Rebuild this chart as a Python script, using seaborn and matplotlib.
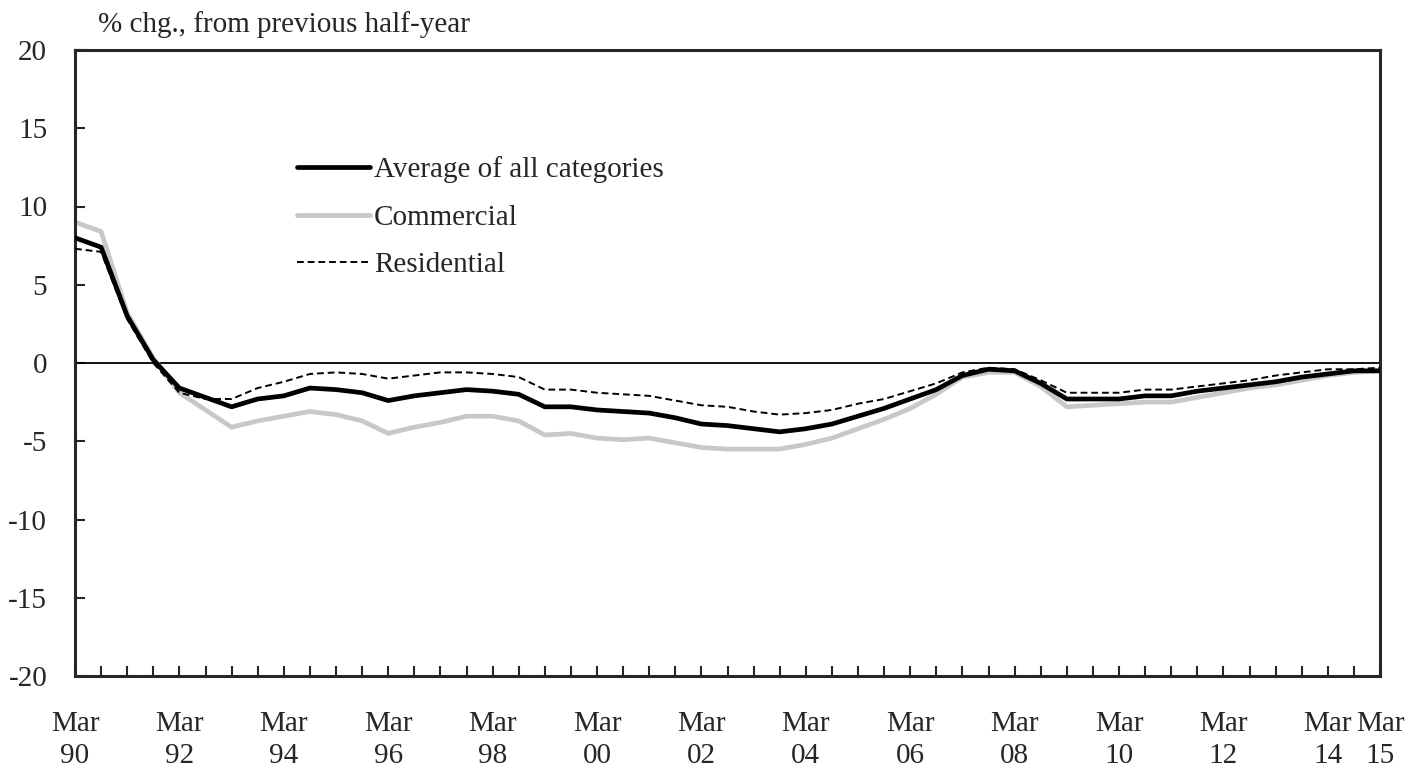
import matplotlib
matplotlib.use('Agg')
import matplotlib.pyplot as plt
import seaborn as sns
import pandas as pd

# Half-yearly points, Mar 90 .. Mar 15 (index 0..50)
average = [8.0, 7.4, 3.0, 0.2, -1.6, -2.2, -2.8, -2.3, -2.1, -1.6,
           -1.7, -1.9, -2.4, -2.1, -1.9, -1.7, -1.8, -2.0, -2.8, -2.8,
           -3.0, -3.1, -3.2, -3.5, -3.9, -4.0, -4.2, -4.4, -4.2, -3.9,
           -3.4, -2.9, -2.3, -1.7, -0.8, -0.4, -0.5, -1.3, -2.3, -2.3,
           -2.3, -2.1, -2.1, -1.8, -1.6, -1.4, -1.2, -0.9, -0.7, -0.5,
           -0.5]
commercial = [9.0, 8.4, 3.2, 0.3, -1.9, -3.0, -4.1, -3.7, -3.4, -3.1,
              -3.3, -3.7, -4.5, -4.1, -3.8, -3.4, -3.4, -3.7, -4.6, -4.5,
              -4.8, -4.9, -4.8, -5.1, -5.4, -5.5, -5.5, -5.5, -5.2, -4.8,
              -4.2, -3.6, -2.9, -2.0, -0.9, -0.6, -0.6, -1.5, -2.8, -2.7,
              -2.6, -2.5, -2.5, -2.2, -1.9, -1.6, -1.4, -1.1, -0.8, -0.6,
              -0.5]
residential = [7.3, 7.1, 2.8, 0.0, -1.9, -2.3, -2.3, -1.6, -1.2, -0.7,
               -0.6, -0.7, -1.0, -0.8, -0.6, -0.6, -0.7, -0.9, -1.7, -1.7,
               -1.9, -2.0, -2.1, -2.4, -2.7, -2.8, -3.1, -3.3, -3.2, -3.0,
               -2.6, -2.3, -1.8, -1.3, -0.6, -0.3, -0.4, -1.1, -1.9, -1.9,
               -1.9, -1.7, -1.7, -1.5, -1.3, -1.1, -0.8, -0.6, -0.4, -0.4,
               -0.3]
tick_labels = {0: 'Mar\n90', 4: 'Mar\n92', 8: 'Mar\n94', 12: 'Mar\n96',
               16: 'Mar\n98', 20: 'Mar\n00', 24: 'Mar\n02', 28: 'Mar\n04',
               32: 'Mar\n06', 36: 'Mar\n08', 40: 'Mar\n10', 44: 'Mar\n12',
               48: 'Mar\n14', 50: 'Mar\n15'}

df = pd.DataFrame({'t': range(len(average)), 'Average of all categories': average,
                   'Commercial': commercial, 'Residential': residential})

sns.set_style('ticks')
plt.rcParams['font.family'] = ['Liberation Serif', 'DejaVu Serif']
plt.rcParams['axes.unicode_minus'] = False

fig = plt.figure(figsize=(14.26, 7.66), dpi=100)
ax = fig.add_axes([75/1426, 1-676/766, 1305/1426, 626/766])

ax.axhline(0, color='black', lw=1.3, zorder=1)
sns.lineplot(data=df, x='t', y='Commercial', color='#c8c8c8', lw=3.4, ax=ax,
             label='Commercial', zorder=2)
sns.lineplot(data=df, x='t', y='Average of all categories', color='black', lw=3.4,
             ax=ax, label='Average of all categories', zorder=3)
sns.lineplot(data=df, x='t', y='Residential', color='black', lw=1.4, ax=ax,
             label='Residential', zorder=4)
ax.lines[-1].set_dashes([3.5, 2])

ax.set_xlim(0, 50)
ax.set_ylim(-20, 20)
ax.set_yticks(range(-20, 21, 5))
ax.set_xticks(range(0, 51))
ax.set_xticklabels([tick_labels.get(i, '') for i in range(51)],
                   linespacing=1.3)
ax.set_xlabel('')
ax.set_ylabel('')
ax.tick_params(axis='both', direction='in', length=7, width=1.5, labelsize=21)
ax.tick_params(axis='x', pad=25)
ax.tick_params(axis='y', pad=20)
for s in ax.spines.values():
    s.set_linewidth(2.2)

h, l = ax.get_legend_handles_labels()
order = [1, 0, 2]
ax.legend([h[i] for i in order], [l[i] for i in order], loc='upper left',
          bbox_to_anchor=(0.170, 0.830), frameon=False, fontsize=21,
          handlelength=2.5, handletextpad=0.15, labelspacing=0.72,
          borderpad=0, borderaxespad=0)

fig.text(98/1426, 1-25/766, '% chg., from previous half-year', fontsize=21,
         va='center', ha='left')

plt.savefig('out.png', dpi=100)
